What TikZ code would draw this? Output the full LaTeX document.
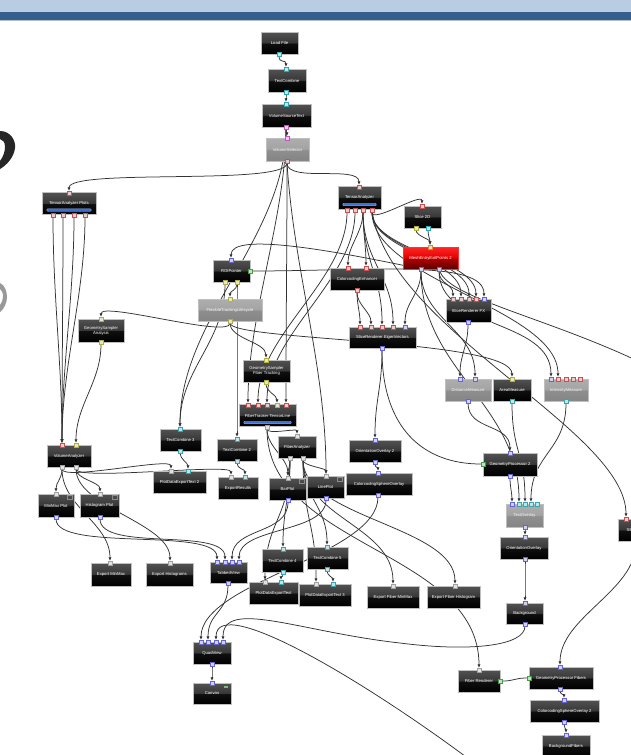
\documentclass[tikz,border=0pt]{standalone}
\usepackage{fontspec}
\setmainfont{Liberation Sans}
\usetikzlibrary{arrows.meta}
\definecolor{cRed}{HTML}{C85050}
\definecolor{cCyan}{HTML}{30A8B0}
\definecolor{cBlue}{HTML}{6464D4}
\definecolor{cYel}{HTML}{B0B040}
\definecolor{cPink}{HTML}{C850C8}
\definecolor{cGray}{HTML}{A0A0A0}
\definecolor{cGreen}{HTML}{40A040}
\definecolor{cOrange}{HTML}{D09030}
\definecolor{cBar}{HTML}{3B6FD6}
\definecolor{cTop}{HTML}{B8CCE4}
\definecolor{cBand}{HTML}{365E8C}
\pgfdeclarelayer{back}
\pgfdeclarelayer{wires}
\pgfsetlayers{back,wires,main}
\pgfdeclareverticalshading{gloss}{100bp}{color(0bp)=(black); color(25bp)=(black); color(49bp)=(black!94); color(51bp)=(black!78); color(75bp)=(black!68); color(100bp)=(black!68)}
\pgfdeclareverticalshading{graygloss}{100bp}{color(0bp)=(black!48); color(25bp)=(black!48); color(49bp)=(black!44); color(51bp)=(black!36); color(75bp)=(black!32); color(100bp)=(black!32)}
\pgfdeclareverticalshading{redgloss}{100bp}{color(0bp)=(red!35!black); color(25bp)=(red!35!black); color(49bp)=(red!70!black); color(51bp)=(red!90!black); color(75bp)=(red!85); color(100bp)=(red!85)}
\begin{document}
\begin{tikzpicture}[x=1pt,y=-1pt,
	every node/.style={font=\fontsize{4.2}{5}\selectfont},
	mod/.style={rectangle,draw=black!25,line width=0.5pt,shade,shading=gloss,text=white,
		minimum height=22,inner sep=0.5pt,align=center},
	off/.style={mod,shading=graygloss,text=black!4},
	hot/.style={mod,shading=redgloss,draw=red!80!white,line width=0.8pt},
	port/.style={rectangle,draw=#1,fill=#1!30!white,minimum size=3.6pt,inner sep=0pt,line width=0.55pt},
	wire/.style={draw=black!80,line width=0.75pt},
	arr/.style={-{Latex[length=3.6pt,width=3.2pt]}},
	cv/.style={to path={.. controls +(0,#1) and +(0,-#1) .. (\tikztotarget)}},
	cv/.default=20,
	bar/.style={fill=cBar,draw=cBar!50!white,line width=0.3pt,rounded corners=0.8pt},
	icon/.style={draw=black!45,line width=0.4pt}]
\useasboundingbox (0,0) rectangle (631,755);
\begin{pgfonlayer}{back}
\fill[white] (0,0) rectangle (631,755);
\fill[cTop] (0,0) rectangle (631,12);
\fill[cBand] (0,12) rectangle (631,20);
\draw[cBand!40!white,line width=0.6pt] (0,20.3) -- (631,20.3);
% the two cut off question marks at the left edge
\fill[black!85] (0,131) .. controls (10,131) and (16,140) .. (15,148) .. controls (14,157) and (7,165) .. (0,169)
	-- (0,161) .. controls (3,157) and (5,152) .. (5,147) .. controls (5,142) and (3,140) .. (0,139) -- cycle;
\fill[black!40] (0,283) .. controls (5,285) and (7,292) .. (7,297) .. controls (7,303) and (4,309) .. (0,312)
	-- (0,305) .. controls (2,302) and (3,299) .. (3,297) .. controls (3,293) and (2,290) .. (0,289) -- cycle;
\end{pgfonlayer}

% modules
\node[mod,minimum width=37] (loadfile) at (279.5,43) {Load File};
\node[port=cCyan] (loadfile-o) at (279,54) {};

\node[mod,minimum width=38,minimum height=23] (textcomb) at (287,80.5) {TextCombine};
\node[port=cCyan] (textcomb-i) at (286,69) {};
\node[port=cCyan] (textcomb-o) at (286,92) {};

\node[mod,minimum width=49,minimum height=23] (volsrc) at (286.5,115.5) {VolumeSourceText};
\node[port=cCyan] (volsrc-i) at (286,104) {};
\node[port=cPink] (volsrc-o) at (286,127) {};

\node[off,minimum width=43,minimum height=23] (volsel) at (287.5,149.5) {VolumeSelector};
\node[port=cPink] (volsel-i) at (287,138) {};
\node[port=cRed] (volsel-o) at (287,161) {};

\node[mod,minimum width=43,minimum height=23] (tensan) at (359.5,197.5) {TensorAnalyzer};
\draw[bar] ([xshift=5pt,yshift=3.5pt]tensan.south west) rectangle ([xshift=-5pt,yshift=6pt]tensan.south east);
\node[port=cRed] (tensan-i) at (359,187) {};
\node[port=cRed] (tensan-o1) at (347,210) {};
\node[port=cRed] (tensan-o2) at (355,210) {};
\node[port=cRed] (tensan-o3) at (363,210) {};
\node[port=cRed] (tensan-o4) at (372,210) {};

\node[mod,minimum width=54] (tanplots) at (69,203.5) {TensorAnalyzer Plots};
\draw[bar] ([xshift=5pt,yshift=3.5pt]tanplots.south west) rectangle ([xshift=-5pt,yshift=6pt]tanplots.south east);
\node[port=cRed] (tanplots-i) at (69,193) {};
\node[port=cRed] (tanplots-o1) at (53,215) {};
\node[port=cRed] (tanplots-o2) at (63,215) {};
\node[port=cRed] (tanplots-o3) at (74,215) {};
\node[port=cRed] (tanplots-o4) at (85,215) {};

\node[mod,minimum width=37] (slice2d) at (422.5,217) {Slice 2D};
\node[port=cRed] (slice2d-i) at (422,206) {};
\node[port=cYel] (slice2d-o1) at (416,228) {};
\node[port=cCyan] (slice2d-o2) at (428,228) {};

\node[hot,minimum width=55] (meep) at (430.5,258) {MeshEntryExitPoints 2};
\node[port=cOrange] (meep-i) at (430,247) {};
\node[port=cBlue] (meep-o1) at (421,269) {};
\node[port=cBlue] (meep-o2) at (439,269) {};

\node[mod,minimum width=37] (roi) at (231.5,271) {ROIPointer};
\node[port=cBlue] (roi-i) at (231,260) {};
\node[port=cYel] (roi-o1) at (225,282) {};
\node[port=cYel] (roi-o2) at (237,282) {};
\node[port=cGreen] (roi-e) at (250,271) {};

\node[mod,minimum width=54] (cce) at (357,279) {ColorcodingEnhancer};
\node[port=cRed] (cce-i1) at (348,268) {};
\node[port=cRed] (cce-i2) at (366,268) {};
\node[port=cRed] (cce-o) at (357,290) {};

\node[off,minimum width=64] (flex) at (230,310) {FlexibleTrackingLifecycle};
\node[port=cYel] (flex-i) at (230,299) {};
\node[port=cYel] (flex-o) at (230,321) {};

\node[mod,minimum width=67,minimum height=21] (sre) at (382.5,337.5) {SliceRenderer EigenVectors};
\node[port=cRed] (sre-i1) at (360,327) {};
\node[port=cRed] (sre-i2) at (371,327) {};
\node[port=cRed] (sre-i3) at (382,327) {};
\node[port=cRed] (sre-i4) at (393,327) {};
\node[port=cBlue] (sre-i5) at (405,327) {};
\node[port=cBlue] (sre-o) at (382,348) {};

\node[mod,minimum width=45,minimum height=23] (sfx) at (468.5,310.5) {SliceRenderer FX};
\node[port=cRed] (sfx-i1) at (453,299) {};
\node[port=cRed] (sfx-i2) at (461,299) {};
\node[port=cRed] (sfx-i3) at (469,299) {};
\node[port=cRed] (sfx-i4) at (476,299) {};
\node[port=cBlue] (sfx-i5) at (484,299) {};
\node[port=cBlue] (sfx-o) at (468,322) {};

\node[mod,minimum width=46,minimum height=23] (gsa) at (101,330.5) {GeometrySampler\\Analysis};
\node[port=cYel] (gsa-i) at (101,319) {};
\node[port=cYel] (gsa-o) at (101,342) {};

\node[mod,minimum width=47] (gsft) at (266.5,371) {GeometrySampler\\Fiber Tracking};
\node[port=cYel] (gsft-i) at (266,360) {};
\node[port=cYel] (gsft-o) at (266,382) {};

\node[mod,minimum width=57] (ftt) at (267.5,415.5) {FiberTracker TensorLine};
\draw[bar] ([xshift=5pt,yshift=3pt]ftt.south west) rectangle ([xshift=-5pt,yshift=5.5pt]ftt.south east);
\node[port=cRed] (ftt-i1) at (248,405) {};
\node[port=cRed] (ftt-i2) at (258,405) {};
\node[port=cRed] (ftt-i3) at (267,405) {};
\node[port=cYel] (ftt-i4) at (277,405) {};
\node[port=cRed] (ftt-i5) at (286,405) {};
\node[port=cGray] (ftt-o) at (267,427) {};

\node[off,minimum width=46] (dist) at (468,390) {DistanceMeasure};
\node[port=cBlue] (dist-i1) at (460,379) {};
\node[port=cBlue] (dist-i2) at (475,379) {};
\node[port=cBlue] (dist-o) at (468,401) {};

\node[mod,minimum width=38] (area) at (512,390) {AreaMeasure};
\node[port=cYel] (area-i) at (512,379) {};
\node[port=cCyan] (area-o) at (512,401) {};

\node[off,minimum width=44] (inten) at (566,390) {IntensityMeasure};
\node[port=cBlue] (inten-i1) at (551,379) {};
\node[port=cRed] (inten-i2) at (558,379) {};
\node[port=cRed] (inten-i3) at (566,379) {};
\node[port=cRed] (inten-i4) at (573,379) {};
\node[port=cRed] (inten-i5) at (580,379) {};
\node[port=cCyan] (inten-o) at (566,401) {};

\node[mod,minimum width=44] (volan) at (69,456) {VolumeAnalyzer};
\node[port=cRed] (volan-i1) at (62,445) {};
\node[port=cYel] (volan-i2) at (76,445) {};
\node[port=cGray] (volan-o1) at (62,467) {};
\node[port=cGray] (volan-o2) at (76,467) {};

\node[mod,minimum width=41] (tc3) at (180.5,440) {TextCombine 3};
\node[port=cCyan] (tc3-i) at (180,429) {};
\node[port=cCyan] (tc3-o) at (180,451) {};

\node[mod,minimum width=40] (tc2) at (237,450) {TextCombine 2};
\node[port=cCyan] (tc2-i) at (237,439) {};
\node[port=cCyan] (tc2-o) at (237,461) {};

\node[mod,minimum width=38] (fan) at (297,447) {FiberAnalyzer};
\node[port=cGray] (fan-i) at (297,436) {};
\node[port=cGray] (fan-o1) at (290,458) {};
\node[port=cGray] (fan-o2) at (303,458) {};

\node[mod,minimum width=52] (oo2) at (375,451) {OrientationOverlay 2};
\node[port=cBlue] (oo2-i) at (375,440) {};
\node[port=cBlue] (oo2-o) at (375,462) {};

\node[mod,minimum width=54,minimum height=23] (gp2) at (510,464.5) {GeometryProcessor 2};
\node[port=cBlue] (gp2-i) at (510,453) {};
\node[port=cGreen] (gp2-w) at (483,464) {};
\node[port=cBlue] (gp2-o) at (510,476) {};

\node[mod,minimum width=53] (pdet2) at (179.5,482) {PlotDataExportText 2};
\node[port=cGray] (pdet2-i1) at (171,471) {};
\node[port=cCyan] (pdet2-i2) at (188,471) {};

\node[mod,minimum width=40] (expres) at (238,488) {ExportResults};
\node[port=cGray] (expres-i1) at (231,477) {};
\node[port=cCyan] (expres-i2) at (245,477) {};

\node[mod,minimum width=36,minimum height=23] (minmax) at (56,505.5) {MinMax Plot};
\draw[icon] ([xshift=-7pt,yshift=-1.5pt]minmax.north east) rectangle +(4.5pt,-3.5pt);
\node[port=cGray] (minmax-i) at (56,494) {};
\node[port=cBlue] (minmax-o) at (56,517) {};

\node[mod,minimum width=39,minimum height=23] (histo) at (99.5,505.5) {Histogram Plot};
\draw[icon] ([xshift=-7pt,yshift=-1.5pt]histo.north east) rectangle +(4.5pt,-3.5pt);
\node[port=cGray] (histo-i) at (100,494) {};
\node[port=cBlue] (histo-o) at (100,517) {};

\node[mod,minimum width=37] (bar) at (287.5,489) {BarPlot};
\draw[icon] ([xshift=-7pt,yshift=-1.5pt]bar.north east) rectangle +(4.5pt,-3.5pt);
\node[port=cGray] (bar-i) at (288,478) {};
\node[port=cBlue] (bar-o) at (288,500) {};

\node[mod,minimum width=37] (line) at (325.5,487) {LinePlot};
\draw[icon] ([xshift=-7pt,yshift=-1.5pt]line.north east) rectangle +(4.5pt,-3.5pt);
\node[port=cGray] (line-i) at (326,476) {};
\node[port=cBlue] (line-o) at (326,498) {};

\node[mod,minimum width=66] (ccso) at (379,484) {ColorcodingSphereOverlay};
\node[port=cBlue] (ccso-i) at (378,473) {};
\node[port=cBlue] (ccso-o) at (378,495) {};

\node[off,minimum width=37,minimum height=23] (txtov) at (524.5,515.5) {TextOverlay};
\node[port=cBlue] (txtov-i1) at (512,504) {};
\node[port=cCyan] (txtov-i2) at (519,504) {};
\node[port=cCyan] (txtov-i3) at (525,504) {};
\node[port=cCyan] (txtov-i4) at (531,504) {};
\node[port=cCyan] (txtov-i5) at (537,504) {};
\node[port=cBlue] (txtov-o) at (525,527) {};

\node[mod,minimum width=48] (orov) at (524,548) {OrientationOverlay};
\node[port=cBlue] (orov-i) at (525,537) {};
\node[port=cBlue] (orov-o) at (525,559) {};

\node[mod,minimum width=40,minimum height=23] (expmm) at (111,574.5) {Export MinMax};
\node[port=cGray] (expmm-i) at (110,563) {};

\node[mod,minimum width=47,minimum height=23] (exphist) at (169.5,574.5) {Export Histograms};
\node[port=cGray] (exphist-i) at (170,563) {};

\node[mod,minimum width=37,minimum height=21] (tabbed) at (228.5,572.5) {TabbedView};
\node[port=cBlue] (tabbed-i1) at (217,562) {};
\node[port=cBlue] (tabbed-i2) at (225,562) {};
\node[port=cBlue] (tabbed-i3) at (232,562) {};
\node[port=cBlue] (tabbed-i4) at (239,562) {};
\node[port=cBlue] (tabbed-o) at (228,583) {};

\node[mod,minimum width=41,minimum height=23] (tc4) at (282.5,560.5) {TextCombine 4};
\node[port=cCyan] (tc4-i) at (283,549) {};
\node[port=cCyan] (tc4-o) at (283,572) {};

\node[mod,minimum width=41] (tc5) at (327.5,558) {TextCombine 5};
\node[port=cCyan] (tc5-i) at (327,547) {};
\node[port=cCyan] (tc5-o) at (327,569) {};

\node[mod,minimum width=49] (pdet) at (273.5,593) {PlotDataExportText};
\node[port=cGray] (pdet-i1) at (265,582) {};
\node[port=cCyan] (pdet-i2) at (281,582) {};

\node[mod,minimum width=52] (pdet3) at (325,595) {PlotDataExportText 3};
\node[port=cGray] (pdet3-i1) at (316,584) {};
\node[port=cCyan] (pdet3-i2) at (333,584) {};

\node[mod,minimum width=52] (expfmm) at (393,597) {Export Fiber MinMax};
\node[port=cGray] (expfmm-i) at (393,586) {};

\node[mod,minimum width=53] (expfh) at (453.5,597) {Export Fiber Histogram};
\node[port=cGray] (expfh-i) at (455,586) {};

\node[mod,minimum width=37,minimum height=21] (bg) at (524.5,613.5) {Background};
\node[port=cBlue] (bg-i) at (525,603) {};
\node[port=cBlue] (bg-o) at (525,624) {};

\node[mod,minimum width=42] (fren) at (479,681) {Fiber Renderer};
\node[port=cGray] (fren-i) at (479,670) {};
\node[port=cGreen] (fren-e) at (500,681) {};

\node[mod,minimum width=64] (gpf) at (561,678) {GeometryProcessor Fibers};
\node[port=cBlue] (gpf-i) at (560,667) {};
\node[port=cGreen] (gpf-w) at (529,678) {};
\node[port=cBlue] (gpf-o) at (560,689) {};

\node[mod,minimum width=69] (ccso2) at (564.5,711) {ColorcodingSphereOverlay 2};
\node[port=cBlue] (ccso2-i) at (564,700) {};
\node[port=cBlue] (ccso2-o) at (564,722) {};

\node[mod,minimum width=48] (bgf) at (566,746) {BackgroundFibers};
\node[port=cBlue] (bgf-i) at (566,735) {};

\node[mod,minimum width=38] (quad) at (212,653) {QuadView};
\node[port=cBlue] (quad-i1) at (201,642) {};
\node[port=cBlue] (quad-i2) at (208,642) {};
\node[port=cBlue] (quad-i3) at (216,642) {};
\node[port=cBlue] (quad-i4) at (223,642) {};
\node[port=cBlue] (quad-o) at (212,664) {};

\node[mod,minimum width=38,minimum height=21] (canvas) at (212,693.5) {Canvas};
\fill[cGreen!70!white] ([xshift=-7pt,yshift=-3pt]canvas.north east) rectangle +(4pt,-2pt);
\node[port=cBlue] (canvas-i) at (212,683) {};

\node[mod,minimum width=44] (srr) at (640,530) {SliceRenderer};
\node[port=cRed] (srr-i) at (626,519) {};
\node[port=cBlue] (srr-o) at (636,541) {};

\coordinate (offb) at (490,775);
\coordinate (offr) at (660,372);

% connections
\begin{pgfonlayer}{wires}
\draw[wire,arr] (loadfile-o) to[cv=10] (textcomb-i);
\draw[wire,arr] (textcomb-o) to[cv=6] (volsrc-i);
\draw[wire,arr] (volsrc-o) to[cv=6] (volsel-i);
\draw[wire,arr] (volsel-o) to[cv=22] (tensan-i);
\draw[wire,arr] (volsel-o) to[cv=25] (tanplots-i);
\draw[wire,arr] (volsrc-o) to[cv=90] (ftt-i1);
\draw[wire,arr] (volsel-o) to[cv=90] (ftt-i5);
\draw[wire,arr] (volsrc-o) to[cv=110] (tc3-i);
\draw[wire,arr] (roi-o1) to[cv=60] (tc3-i);
\draw[wire,arr] (roi-o2) to[cv=60] (tc2-i);
\draw[wire,arr] (volsrc-o) to[cv=120] (line-i);
\draw[wire,arr] (tensan-o1) to[cv=70] (ftt-i2);
\draw[wire,arr] (tensan-o2) to[cv=70] (ftt-i3);
\draw[wire,arr] (gsft-o) to[cv=10] (ftt-i4);
\draw[wire,arr] (tensan-o4) to[cv=14] (slice2d-i);
\draw[wire,arr] (tensan-o3) to[cv=22] (cce-i1);
\draw[wire,arr] (tensan-o3) to[cv=22] (cce-i2);
\draw[wire,arr] (cce-o) to[cv=15] (sre-i1);
\draw[wire,arr] (cce-o) to[cv=15] (sre-i2);
\draw[wire,arr] (tensan-o3) to[cv=50] (sre-i3);
\draw[wire,arr] (tensan-o3) to[cv=50] (sre-i4);
\draw[wire,arr] (tensan-o4) to[cv=40] (sfx-i2);
\draw[wire,arr] (tensan-o4) to[cv=40] (sfx-i3);
\draw[wire,arr] (tensan-o4) to[cv=40] (sfx-i4);
\draw[wire,arr] (slice2d-o1) to[cv=8] (meep-i);
\draw[wire,arr] (slice2d-o2) to[cv=8] (meep-i);
\draw[wire,arr] (meep-o1) to[cv=25] (sre-i5);
\draw[wire,arr] (meep-o2) to[cv=15] (sfx-i1);
\draw[wire,arr] (meep-o1) to[cv=50] (dist-i2);
\draw[wire,arr] (meep-o2) to[cv=60] (inten-i1);
\draw[wire,arr] (tensan-o4) to[cv=70] (inten-i2);
\draw[wire,arr] (sfx-o) to[cv=25] (dist-i1);
\draw[wire,arr] (roi-o2) to[cv=8] (flex-i);
\draw[wire,arr] (flex-o) to[cv=18] (gsa-i);
\draw[wire,arr] (flex-o) to[cv=18] (gsft-i);
\draw[wire,arr] (flex-o) .. controls +(0,20) and +(0,-40) .. (area-i);
\draw[wire,arr] (roi-e) .. controls +(120,0) and +(0,-40) .. (sfx-i5);
\draw[wire,arr] (meep-o1) .. controls (330,250) and (231,232) .. (roi-i);
\draw[wire,arr] (tensan-o4) .. controls (390,330) and (626,430) .. (srr-i);
\draw[wire] (meep-o2) .. controls (450,300) and (560,320) .. (offr);
\draw[wire,arr] (gsa-o) to[cv=40] (volan-i2);
\draw[wire,arr] (tanplots-o1) to[cv=80] (volan-i1);
\draw[wire,arr] (tanplots-o2) to[cv=80] (volan-i1);
\draw[wire,arr] (tanplots-o3) to[cv=80] (volan-i1);
\draw[wire,arr] (tanplots-o4) to[cv=80] (volan-i1);
\draw[wire,arr] (volan-o1) to[cv=12] (minmax-i);
\draw[wire,arr] (volan-o2) to[cv=12] (histo-i);
\draw[wire,arr] (volan-o1) to[cv=40] (expmm-i);
\draw[wire,arr] (volan-o2) to[cv=40] (exphist-i);
\draw[wire,arr] (volan-o1) to[cv=14] (pdet2-i1);
\draw[wire,arr] (volan-o2) to[cv=14] (expres-i1);
\draw[wire,arr] (tc3-o) to[cv=8] (pdet2-i2);
\draw[wire,arr] (tc2-o) to[cv=8] (expres-i2);
\draw[wire,arr] (minmax-o) to[cv=35] (tabbed-i1);
\draw[wire,arr] (histo-o) to[cv=35] (tabbed-i2);
\draw[wire,arr] (bar-o) to[cv=35] (tabbed-i3);
\draw[wire,arr] (line-o) to[cv=35] (tabbed-i4);
\draw[wire,arr] (ftt-o) to[cv=8] (fan-i);
\draw[wire,arr] (ftt-o) to[cv=20] (bar-i);
\draw[wire,arr] (ftt-o) to[cv=120] (fren-i);
\draw[wire,arr] (fan-o1) to[cv=8] (bar-i);
\draw[wire,arr] (fan-o2) to[cv=8] (line-i);
\draw[wire,arr] (fan-o1) to[cv=40] (tc4-i);
\draw[wire,arr] (fan-o2) to[cv=40] (tc5-i);
\draw[wire,arr] (fan-o1) to[cv=60] (pdet-i1);
\draw[wire,arr] (fan-o2) to[cv=60] (pdet3-i1);
\draw[wire,arr] (fan-o2) to[cv=60] (expfmm-i);
\draw[wire,arr] (fan-o2) to[cv=60] (expfh-i);
\draw[wire,arr] (tc4-o) to[cv=6] (pdet-i2);
\draw[wire,arr] (tc5-o) to[cv=6] (pdet3-i2);
\draw[wire,arr] (sre-o) to[cv=40] (oo2-i);
\draw[wire] (sre-o) .. controls +(0,80) and +(-60,0) .. (gp2-w);
\draw[wire,arr] (oo2-o) to[cv=6] (ccso-i);
\draw[wire,arr] (ccso-o) to[cv=60] (quad-i1);
\draw[wire,arr] (tabbed-o) to[cv=30] (quad-i2);
\draw[wire,arr] (offb) .. controls (380,690) and (216,590) .. (quad-i3);
\draw[wire,arr] (bg-o) .. controls +(0,22) and (470,652) .. (400,643) .. controls (300,632) and (223,598) .. (quad-i4);
\draw[wire,arr] (quad-o) to[cv=6] (canvas-i);
\draw[wire,arr] (dist-o) to[cv=30] (gp2-i);
\draw[wire,arr] (area-o) to[cv=50] (txtov-i3);
\draw[wire,arr] (meep-o1) to[cv=100] (txtov-i2);
\draw[wire,arr] (inten-o) to[cv=50] (txtov-i4);
\draw[wire,arr] (gp2-o) to[cv=10] (txtov-i1);
\draw[wire,arr] (txtov-o) to[cv=4] (orov-i);
\draw[wire,arr] (orov-o) to[cv=15] (bg-i);
\draw[wire] (fren-e) .. controls +(15,0) and +(-15,0) .. (gpf-w);
\draw[wire,arr] (srr-o) to[cv=50] (gpf-i);
\draw[wire,arr] (gpf-o) to[cv=5] (ccso2-i);
\draw[wire,arr] (ccso2-o) to[cv=5] (bgf-i);
\end{pgfonlayer}
\end{tikzpicture}
\end{document}
